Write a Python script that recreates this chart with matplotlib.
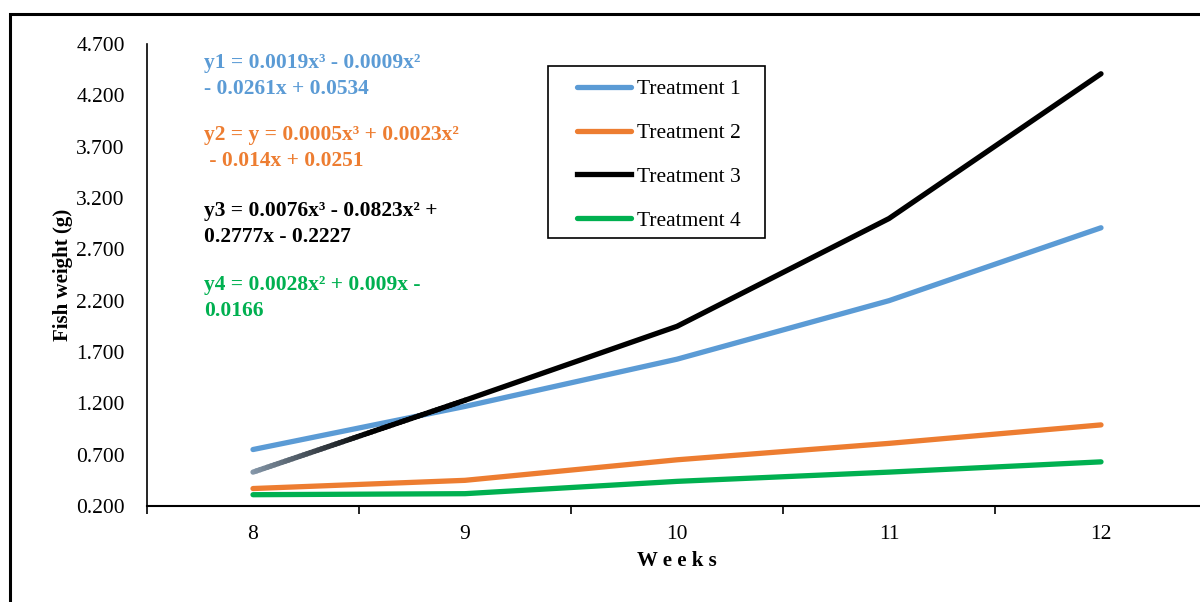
import matplotlib.pyplot as plt
from matplotlib.patches import Rectangle
from matplotlib.collections import LineCollection
from matplotlib.colors import to_rgb
import numpy as np

plt.rcParams['font.family'] = ['Liberation Serif', 'DejaVu Serif']

weeks = [8, 9, 10, 11, 12]
treatment_1 = [0.75, 1.17, 1.63, 2.20, 2.91]
treatment_2 = [0.37, 0.45, 0.65, 0.81, 0.99]
treatment_3 = [0.53, 1.23, 1.95, 3.00, 4.41]
treatment_4 = [0.31, 0.32, 0.44, 0.53, 0.63]

series = [
    ('Treatment 1', treatment_1, '#5B9BD5'),
    ('Treatment 2', treatment_2, '#ED7D31'),
    ('Treatment 3', treatment_3, '#000000'),
    ('Treatment 4', treatment_4, '#00B050'),
]

equations = [
    ('y1 = 0.0019x³ - 0.0009x²\n- 0.0261x + 0.0534', '#5B9BD5'),
    ('y2 = y = 0.0005x³ + 0.0023x²\n - 0.014x + 0.0251', '#ED7D31'),
    ('y3 = 0.0076x³ - 0.0823x² +\n0.2777x - 0.2227', '#000000'),
    ('y4 = 0.0028x² + 0.009x -\n0.0166', '#00B050'),
]

W, H = 1200, 602
fig = plt.figure(figsize=(W / 100, H / 100), dpi=100)

# outer frame (runs off the right and bottom edges)
fig.patches.append(Rectangle((10 / W, -0.1), 1.2, 1 - 14 / H + 0.1,
                             transform=fig.transFigure, fill=False,
                             edgecolor='black', linewidth=2.2))

ax = fig.add_axes([147 / W, 96 / H, 1060 / W, 462 / H])
for label, vals, color in series:
    if label == 'Treatment 3':
        # first segment fades in from grey to black
        t = np.linspace(0, 1, 60)
        xs = weeks[0] + t * (weeks[1] - weeks[0])
        ys = vals[0] + t * (vals[1] - vals[0])
        pts = np.column_stack([xs, ys]).reshape(-1, 1, 2)
        segs = np.concatenate([pts[:-1], pts[1:]], axis=1)
        start = np.array(to_rgb('#8496A8'))
        fade = np.clip(t[:-1] / 0.55, 0, 1)[:, None]
        cols = start * (1 - fade)
        ax.add_collection(LineCollection(segs, colors=cols, linewidths=3.8,
                                         capstyle='round'))
        ax.plot(weeks[1:], vals[1:], color=color, linewidth=3.8,
                solid_capstyle='round')
        ax.plot([], [], color=color, linewidth=3.8, label=label)
    else:
        ax.plot(weeks, vals, color=color, linewidth=3.8, label=label,
                solid_capstyle='round')

ax.set_xlim(7.5, 12.5)
ax.set_ylim(0.2, 4.7)
ax.set_yticks(np.arange(0.2, 4.71, 0.5))
ax.set_yticklabels([f'{v:.3f}' for v in np.arange(0.2, 4.71, 0.5)])
ax.set_xticks(weeks)
ax.set_xticks([7.5, 8.5, 9.5, 10.5, 11.5, 12.5], minor=True)
ax.tick_params(axis='y', length=0, pad=16, labelsize=15.5)
ax.tick_params(axis='x', which='major', length=0, pad=14, labelsize=15.5)
ax.tick_params(axis='x', which='minor', length=6, width=1.2, direction='out')
ax.spines['top'].set_visible(False)
ax.spines['right'].set_visible(False)
ax.spines['left'].set_linewidth(1.2)
ax.spines['bottom'].set_linewidth(1.5)

ax.set_ylabel('Fish weight (g)', fontsize=15, fontweight='bold', labelpad=2)
fig.text(677 / W, 1 - 561 / H, 'W e e k s', fontsize=15, fontweight='bold',
         ha='center', va='center')

eq_tops = [53, 125, 201, 275]
for (txt, color), top in zip(equations, eq_tops):
    fig.text(204 / W, 1 - top / H, txt, color=color, fontsize=15.5,
             fontweight='bold', ha='left', va='top', linespacing=1.38)

# legend entries without their own frame, boxed separately
leg = ax.legend(loc='center', bbox_to_anchor=(659 / W, 1 - 155 / H),
                bbox_transform=fig.transFigure,
                fontsize=15.5, frameon=False,
                handlelength=2.5, handletextpad=0.3, labelspacing=1.1,
                borderpad=0, borderaxespad=0)
fig.patches.append(Rectangle((548 / W, 1 - 238 / H), 217 / W, 172 / H,
                             transform=fig.transFigure, fill=False,
                             edgecolor='black', linewidth=1.2))

fig.savefig('out.png', dpi=100)
